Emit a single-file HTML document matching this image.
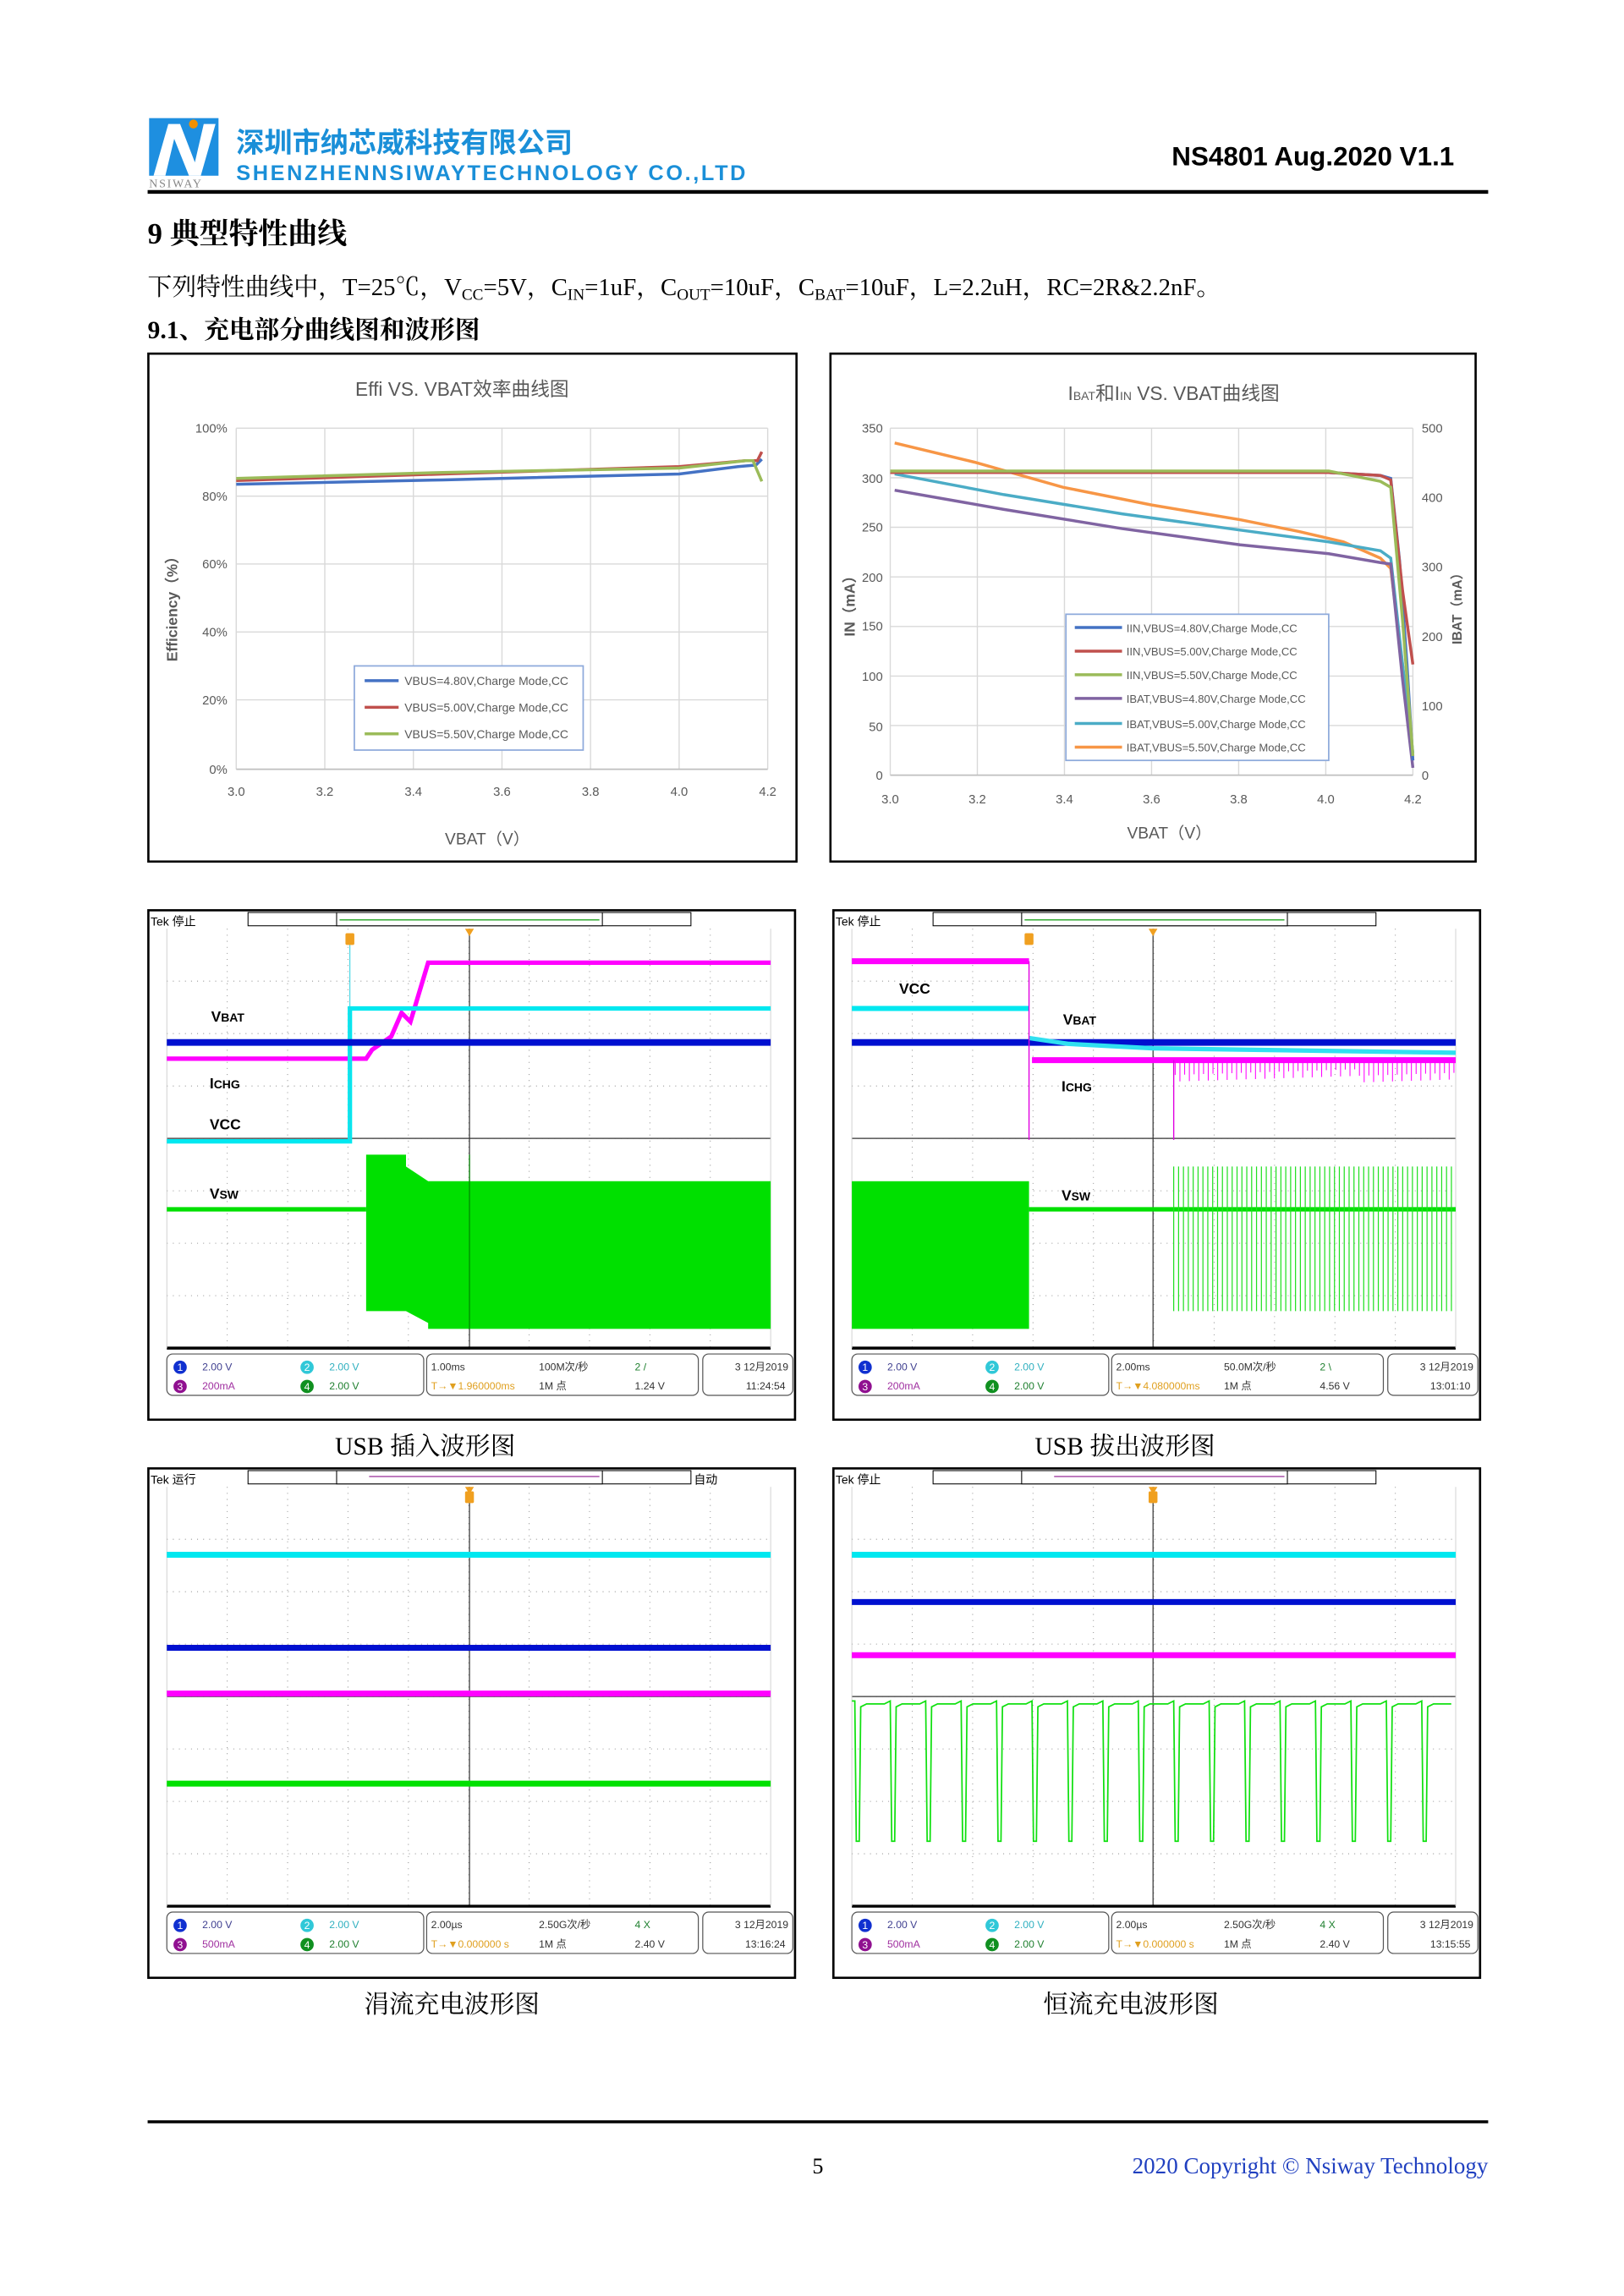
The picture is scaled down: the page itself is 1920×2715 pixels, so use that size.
<!DOCTYPE html>
<html><head><meta charset="utf-8"><style>
html,body{margin:0;padding:0;background:#fff;}
svg{display:block;}
.sf{font-family:"Liberation Serif","Noto Serif CJK SC",serif;}
.ss{font-family:"Liberation Sans","Noto Sans CJK SC",sans-serif;}
</style></head><body>
<svg id="pg" xmlns="http://www.w3.org/2000/svg" width="1920" height="2715" viewBox="0 0 1100 1555" preserveAspectRatio="none">
<rect width="1100" height="1555" fill="#fff"/>
<!-- header -->
<rect x="101" y="80" width="47" height="39" fill="#1e8fe0"/>
<path d="M104 119 L114 84 L122 84 L132 110 L138 84 L146 84 L136 119 L128 119 L118 94 L112 119 Z" fill="#fff"/>
<circle cx="131" cy="84" r="3" fill="#f29000"/>
<text x="101" y="127" class="sf" font-size="8" fill="#888" letter-spacing="1">NSIWAY</text>
<text x="160" y="103" class="ss" font-size="19" font-weight="bold" fill="#1a8fd8">深圳市纳芯威科技有限公司</text>
<text x="160" y="122" class="ss" font-size="14.5" font-weight="bold" fill="#1a8fd8" textLength="345">SHENZHENNSIWAYTECHNOLOGY CO.,LTD</text>
<text x="985" y="112" class="ss" font-size="18" font-weight="bold" text-anchor="end">NS4801 Aug.2020 V1.1</text>
<line x1="100" y1="130" x2="1008" y2="130" stroke="#000" stroke-width="2.5"/>
<text x="100" y="165" class="sf" font-size="20" font-weight="bold">9  典型特性曲线</text>
<text x="100" y="200" class="sf" font-size="16.5">下列特性曲线中，T=25℃，V<tspan font-size="11" dy="3">CC</tspan><tspan dy="-3">=5V，C</tspan><tspan font-size="11" dy="3">IN</tspan><tspan dy="-3">=1uF，C</tspan><tspan font-size="11" dy="3">OUT</tspan><tspan dy="-3">=10uF，C</tspan><tspan font-size="11" dy="3">BAT</tspan><tspan dy="-3">=10uF，L=2.2uH，RC=2R&amp;2.2nF。</tspan></text>
<text x="100" y="229" class="sf" font-size="17" font-weight="bold">9.1、充电部分曲线图和波形图</text>

<!-- chart 1 -->
<rect x="100.5" y="239.5" width="439" height="344" fill="#fff" stroke="#000" stroke-width="1.5"/>
<text x="313" y="268" class="ss" font-size="13" fill="#595959" text-anchor="middle">Effi VS. VBAT效率曲线图</text>
<g stroke="#d9d9d9" stroke-width="0.8">
<line x1="160" y1="290" x2="520" y2="290"/><line x1="160" y1="336" x2="520" y2="336"/><line x1="160" y1="382" x2="520" y2="382"/><line x1="160" y1="428" x2="520" y2="428"/><line x1="160" y1="474" x2="520" y2="474"/>
<line x1="220" y1="290" x2="220" y2="521"/><line x1="280" y1="290" x2="280" y2="521"/><line x1="340" y1="290" x2="340" y2="521"/><line x1="400" y1="290" x2="400" y2="521"/><line x1="460" y1="290" x2="460" y2="521"/><line x1="520" y1="290" x2="520" y2="521"/>
<line x1="160" y1="290" x2="160" y2="521"/></g>
<line x1="160" y1="521" x2="520" y2="521" stroke="#bfbfbf"/>
<g class="ss" font-size="8.5" fill="#595959" text-anchor="end">
<text x="154" y="293">100%</text><text x="154" y="339">80%</text><text x="154" y="385">60%</text><text x="154" y="431">40%</text><text x="154" y="477">20%</text><text x="154" y="524">0%</text></g>
<g class="ss" font-size="8.5" fill="#595959" text-anchor="middle">
<text x="160" y="539">3.0</text><text x="220" y="539">3.2</text><text x="280" y="539">3.4</text><text x="340" y="539">3.6</text><text x="400" y="539">3.8</text><text x="460" y="539">4.0</text><text x="520" y="539">4.2</text></g>
<text x="330" y="572" class="ss" font-size="11" fill="#595959" text-anchor="middle">VBAT（V）</text>
<text transform="translate(120,410) rotate(-90)" class="ss" font-size="10" font-weight="bold" fill="#595959" text-anchor="middle">Efficiency（%）</text>
<polyline points="160,328 300,325 460,321 500,316 512,315 516,311" fill="none" stroke="#4472c4" stroke-width="2"/>
<polyline points="160,325.5 300,321 460,316 505,312 513,312 516,306" fill="none" stroke="#c0504d" stroke-width="2"/>
<polyline points="160,324 300,320 460,317 505,312 510,312 516,326" fill="none" stroke="#9bbb59" stroke-width="2"/>
<rect x="240" y="451" width="155" height="57" fill="#fff" stroke="#8eaadb"/>
<g class="ss" font-size="8" fill="#595959">
<line x1="247" y1="461" x2="270" y2="461" stroke="#4472c4" stroke-width="2"/><text x="274" y="464">VBUS=4.80V,Charge Mode,CC</text>
<line x1="247" y1="479" x2="270" y2="479" stroke="#c0504d" stroke-width="2"/><text x="274" y="482">VBUS=5.00V,Charge Mode,CC</text>
<line x1="247" y1="497" x2="270" y2="497" stroke="#9bbb59" stroke-width="2"/><text x="274" y="500">VBUS=5.50V,Charge Mode,CC</text></g>

<!-- chart 2 -->
<rect x="562.5" y="239.5" width="437" height="344" fill="#fff" stroke="#000" stroke-width="1.5"/>
<text x="795" y="271" class="ss" font-size="13" fill="#595959" text-anchor="middle">I<tspan font-size="8">BAT</tspan>和I<tspan font-size="8">IN</tspan> VS. VBAT曲线图</text>
<g stroke="#d9d9d9" stroke-width="0.8">
<line x1="603" y1="290" x2="957" y2="290"/><line x1="603" y1="323.6" x2="957" y2="323.6"/><line x1="603" y1="357.1" x2="957" y2="357.1"/><line x1="603" y1="390.7" x2="957" y2="390.7"/><line x1="603" y1="424.3" x2="957" y2="424.3"/><line x1="603" y1="457.9" x2="957" y2="457.9"/><line x1="603" y1="491.4" x2="957" y2="491.4"/>
<line x1="662" y1="290" x2="662" y2="525"/><line x1="721" y1="290" x2="721" y2="525"/><line x1="780" y1="290" x2="780" y2="525"/><line x1="839" y1="290" x2="839" y2="525"/><line x1="898" y1="290" x2="898" y2="525"/><line x1="957" y1="290" x2="957" y2="525"/><line x1="603" y1="290" x2="603" y2="525"/></g>
<line x1="603" y1="525" x2="957" y2="525" stroke="#bfbfbf"/>
<g class="ss" font-size="8.5" fill="#595959" text-anchor="end">
<text x="598" y="293">350</text><text x="598" y="327">300</text><text x="598" y="360">250</text><text x="598" y="394">200</text><text x="598" y="427">150</text><text x="598" y="461">100</text><text x="598" y="495">50</text><text x="598" y="528">0</text></g>
<g class="ss" font-size="8.5" fill="#595959">
<text x="963" y="293">500</text><text x="963" y="340">400</text><text x="963" y="387">300</text><text x="963" y="434">200</text><text x="963" y="481">100</text><text x="963" y="528">0</text></g>
<g class="ss" font-size="8.5" fill="#595959" text-anchor="middle">
<text x="603" y="544">3.0</text><text x="662" y="544">3.2</text><text x="721" y="544">3.4</text><text x="780" y="544">3.6</text><text x="839" y="544">3.8</text><text x="898" y="544">4.0</text><text x="957" y="544">4.2</text></g>
<text x="792" y="568" class="ss" font-size="11" fill="#595959" text-anchor="middle">VBAT（V）</text>
<text transform="translate(579,408) rotate(-90)" class="ss" font-size="10" font-weight="bold" fill="#595959" text-anchor="middle">IN（mA）</text>
<text transform="translate(990,410) rotate(-90)" class="ss" font-size="9" font-weight="bold" fill="#595959" text-anchor="middle">IBAT（mA）</text>
<g fill="none" stroke-width="2">
<polyline points="606,300 660,313 720,330 780,342 840,352 880,360 910,367 935,378 942,385 950,450 957,515" stroke="#f79646"/>
<polyline points="606,321 680,335 760,348 840,359 900,367 935,373 942,378 950,450 957,510" stroke="#4bacc6"/>
<polyline points="606,332 680,345 760,358 840,369 900,375 935,381 942,382 950,460 957,520" stroke="#8064a2"/>
<polyline points="603,320 900,320 935,322 942,324 948,380 953,450 957,515" stroke="#4472c4"/>
<polyline points="603,320 900,320 935,322 942,325 950,400 957,450" stroke="#c0504d"/>
<polyline points="603,319 900,319 935,326 942,330 950,420 957,512" stroke="#9bbb59"/></g>
<rect x="722" y="416" width="178" height="99" fill="#fff" stroke="#8eaadb"/>
<g class="ss" font-size="7.5" fill="#595959" stroke-width="2">
<line x1="728" y1="425" x2="760" y2="425" stroke="#4472c4"/><text x="763" y="428">IIN,VBUS=4.80V,Charge Mode,CC</text>
<line x1="728" y1="441" x2="760" y2="441" stroke="#c0504d"/><text x="763" y="444">IIN,VBUS=5.00V,Charge Mode,CC</text>
<line x1="728" y1="457" x2="760" y2="457" stroke="#9bbb59"/><text x="763" y="460">IIN,VBUS=5.50V,Charge Mode,CC</text>
<line x1="728" y1="473" x2="760" y2="473" stroke="#8064a2"/><text x="763" y="476">IBAT,VBUS=4.80V,Charge Mode,CC</text>
<line x1="728" y1="490" x2="760" y2="490" stroke="#4bacc6"/><text x="763" y="493">IBAT,VBUS=5.00V,Charge Mode,CC</text>
<line x1="728" y1="506" x2="760" y2="506" stroke="#f79646"/><text x="763" y="509">IBAT,VBUS=5.50V,Charge Mode,CC</text></g>

<!-- scopes -->
<g id="s1" transform="translate(100,616)"></g>
<g id="s2" transform="translate(564,616)"></g>
<g id="s3" transform="translate(100,994)"></g>
<g id="s4" transform="translate(564,994)"></g>

<g id="lab">
<g class="ss" font-size="10" font-weight="bold">
<text x="143" y="692">V<tspan font-size="8">BAT</tspan></text>
<text x="142" y="737">I<tspan font-size="8">CHG</tspan></text>
<text x="142" y="765">VCC</text>
<text x="142" y="812">V<tspan font-size="8">SW</tspan></text>
<text x="609" y="673">VCC</text>
<text x="720" y="694">V<tspan font-size="8">BAT</tspan></text>
<text x="719" y="739">I<tspan font-size="8">CHG</tspan></text>
<text x="719" y="813">V<tspan font-size="8">SW</tspan></text></g>
<g class="ss" font-size="8">
<text x="102" y="627">Tek 停止</text><text x="566" y="627">Tek 停止</text>
<text x="102" y="1005">Tek 运行</text><text x="566" y="1005">Tek 停止</text><text x="470" y="1005">自动</text></g>
</g>

<g class="sf" font-size="17" text-anchor="middle">
<text x="288" y="985">USB 插入波形图</text>
<text x="762" y="985">USB 拔出波形图</text>
<text x="306" y="1363">涓流充电波形图</text>
<text x="766" y="1363">恒流充电波形图</text></g>

<line x1="100" y1="1437" x2="1008" y2="1437" stroke="#000" stroke-width="2"/>
<text x="554" y="1472" class="sf" font-size="15" text-anchor="middle">5</text>
<text x="1008" y="1472" class="sf" font-size="15.5" fill="#2040c0" text-anchor="end">2020 Copyright © Nsiway Technology</text>
</svg>
<script>
const NS='http://www.w3.org/2000/svg';
function el(p,t,a){const e=document.createElementNS(NS,t);for(const k in a)e.setAttribute(k,a[k]);p.appendChild(e);return e;}
function pl(p,pts,c,w){return el(p,'polyline',{points:pts,fill:'none',stroke:c,'stroke-width':w});}
function scope(id,cx,top){
 const g=document.getElementById(id);
 el(g,'rect',{x:0.5,y:0.5,width:438,height:345,fill:'#fff',stroke:'#000','stroke-width':1.5});
 el(g,'rect',{x:68,y:2,width:300,height:9,fill:'#fff',stroke:'#000','stroke-width':0.6});
 el(g,'rect',{x:128,y:2,width:180,height:9,fill:'#fff',stroke:'#000','stroke-width':0.6});
 if(top) el(g,'line',{x1:130,y1:7,x2:306,y2:7,stroke:'#3a3','stroke-width':0.8});
 else el(g,'line',{x1:150,y1:6,x2:306,y2:6,stroke:'#a040a0','stroke-width':0.8});
 for(let i=1;i<10;i++){const x=13+40.9*i;el(g,'line',{x1:x,y1:13,x2:x,y2:297,stroke:'#999','stroke-width':0.6,'stroke-dasharray':'0.6 3.5'});}
 for(let j=1;j<8;j++){const y=13+35.5*j;el(g,'line',{x1:13,y1:y,x2:422,y2:y,stroke:'#999','stroke-width':0.6,'stroke-dasharray':'0.6 3.5'});}
 el(g,'line',{x1:cx,y1:13,x2:cx,y2:297,stroke:'#333','stroke-width':0.7});
 el(g,'line',{x1:13,y1:155,x2:422,y2:155,stroke:'#333','stroke-width':0.7});
 el(g,'line',{x1:13,y1:297,x2:422,y2:297,stroke:'#000','stroke-width':2});
 el(g,'line',{x1:13,y1:13,x2:13,y2:297,stroke:'#ccc','stroke-width':0.5});
 el(g,'line',{x1:422,y1:13,x2:422,y2:297,stroke:'#ccc','stroke-width':0.5});
 el(g,'path',{d:`M${cx-3} 13 h6 l-3 5z`,fill:'#f0a020'});
 [[13,187],[189,373],[376,437]].forEach(b=>el(g,'rect',{x:b[0],y:301,width:b[1]-b[0],height:28,rx:4,fill:'#fff',stroke:'#555','stroke-width':0.7}));
 return g;
}
function readout(g,ch3,tb,rate,trg,tl,tv,date,time){
 const c=[[22,312,'#1030d0','1','2.00 V',37],[108,312,'#30c8d8','2','2.00 V',123],[22,325,'#901090','3',ch3,37],[108,325,'#109020','4','2.00 V',123]];
 const tc=['#404090','#30b0c0','#a030a0','#208030'];
 c.forEach((d,i)=>{el(g,'circle',{cx:d[0],cy:d[1]-2,r:4.5,fill:d[2]});const t=el(g,'text',{x:d[0],y:d[1]+0.5,'text-anchor':'middle',fill:'#fff','font-size':7,'font-family':'Liberation Sans,sans-serif'});t.textContent=d[3];
  const u=el(g,'text',{x:d[5],y:d[1],fill:tc[i],'font-size':7,'font-family':'Liberation Sans,Noto Sans CJK SC,sans-serif'});u.textContent=d[4];});
 const T=(x,y,s,f,a)=>{const t=el(g,'text',{x:x,y:y,fill:f||'#333','font-size':7,'font-family':'Liberation Sans,Noto Sans CJK SC,sans-serif','text-anchor':a||'start'});t.textContent=s;};
 T(192,312,tb);T(265,312,rate);T(192,325,trg,'#e0a020');T(265,325,'1M 点');T(330,312,tl,'#208030');T(330,325,tv);
 T(434,312,date,'#333','end');T(432,325,time,'#333','end');
}
let g=scope('s1',218,true);
pl(g,'13,101 148,101 152,95 165,86 172,70 178,76 190,36 422,36','#ff00ff',3);
pl(g,'13,157 137,157 137,67 422,67','#00e8f0',3);
el(g,'line',{x1:137,y1:20,x2:137,y2:157,stroke:'#30d0e0','stroke-width':0.6});
pl(g,'13,90 422,90','#0010d0',4.5);
pl(g,'13,203 148,203','#00e000',3);
el(g,'path',{d:'M148 166 L175 166 L175 174 L190 184 L422 184 L422 284 L190 284 L190 280 L175 272 L148 272 Z',fill:'#00e000'});
el(g,'line',{x1:218,y1:166,x2:218,y2:284,stroke:'#008800','stroke-width':0.7});
el(g,'rect',{x:134,y:16,width:6,height:8,rx:1,fill:'#f0a020'});
readout(g,'200mA','1.00ms','100M次/秒','T→▼1.960000ms','2 /','1.24 V','3 12月2019','11:24:54');
g=scope('s2',217,true);
pl(g,'13,35 133,35','#ff00ff',4);
pl(g,'13,67 133,67','#00e8f0',3.5);
pl(g,'13,90 422,90','#0010d0',4.5);
pl(g,'133,87 160,91 217,94 422,97','#30e0f0',3);
pl(g,'133,35 133,156','#e000e0',0.8);
pl(g,'135,102 422,102','#ff00ff',4);
let d='';for(let x=232;x<422;x+=3.2){d+=`M${x.toFixed(1)} 102 v${(6+((x*7)%9)).toFixed(1)} `;}
el(g,'path',{d:d,stroke:'#ff00ff','stroke-width':0.6});
pl(g,'231,102 231,156','#e000e0',0.8);
el(g,'rect',{x:13,y:184,width:120,height:100,fill:'#00e000'});
pl(g,'133,203 422,203','#00e000',3);
d='';for(let x=231;x<422;x+=3.3){d+=`M${x.toFixed(1)} 174 V272 `;}
el(g,'path',{d:d,stroke:'#20e020','stroke-width':0.7});
el(g,'rect',{x:130,y:16,width:6,height:8,rx:1,fill:'#f0a020'});
readout(g,'200mA','2.00ms','50.0M次/秒','T→▼4.080000ms','2 \\','4.56 V','3 12月2019','13:01:10');
g=scope('s3',218,false);
pl(g,'13,59 422,59','#00e8f0',4);
pl(g,'13,122 422,122','#0010d0',4);
pl(g,'13,153 422,153','#ff00ff',4);
pl(g,'13,214 422,214','#00e000',4);
el(g,'rect',{x:215,y:16,width:6,height:8,rx:1,fill:'#f0a020'});
readout(g,'500mA','2.00µs','2.50G次/秒','T→▼0.000000 s','4 X','2.40 V','3 12月2019','13:16:24');
g=scope('s4',217,false);
pl(g,'13,59 422,59','#00e8f0',4);
pl(g,'13,91 422,91','#0010d0',4);
pl(g,'13,127 422,127','#ff00ff',4);
d='M13 158 ';for(let x=15;x<422;x+=24){d+=`L${x} 158 L${x+1} 253 L${x+3} 253 L${x+4} 162 L${x+8} 160 L${x+20} 160 `;}
el(g,'path',{d:d,fill:'none',stroke:'#10e010','stroke-width':1});
el(g,'rect',{x:214,y:16,width:6,height:8,rx:1,fill:'#f0a020'});
readout(g,'500mA','2.00µs','2.50G次/秒','T→▼0.000000 s','4 X','2.40 V','3 12月2019','13:15:55');
// keep labels on top
const pg=document.getElementById('pg');pg.appendChild(document.getElementById('lab'));
</script>
</body></html>
